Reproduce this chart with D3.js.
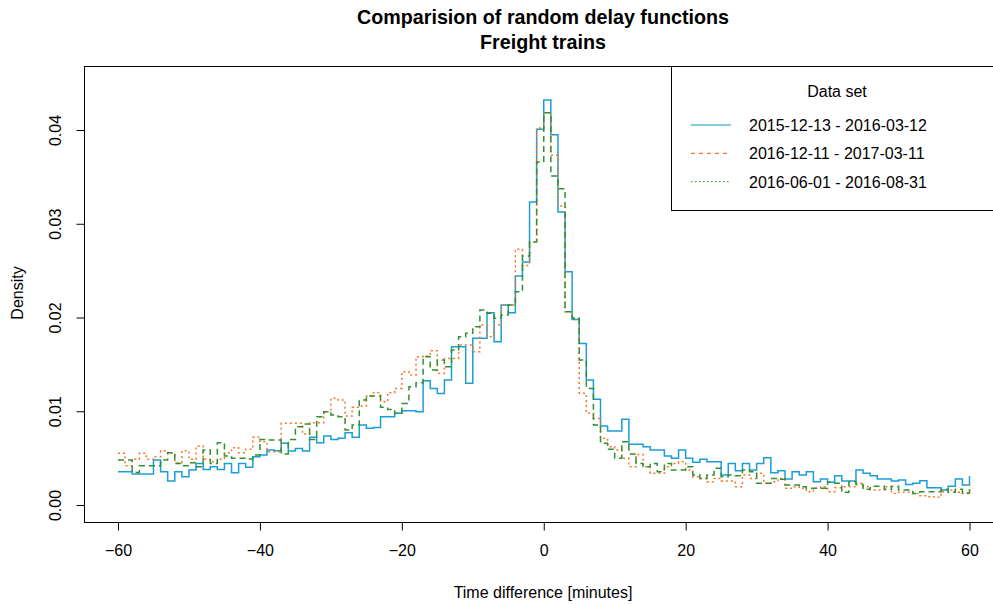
<!DOCTYPE html>
<html>
<head>
<meta charset="utf-8">
<script src="https://cdn.jsdelivr.net/npm/d3@7"></script>
<style>
  body { margin: 0; background: #fff; }
  svg { display: block; }
  text { font-family: "Liberation Sans", Arial, Helvetica, sans-serif; fill: #000; }
</style>
</head>
<body>
<svg id="chart" width="993" height="604"></svg>
<script>
// Bin left edges in minutes; the last entry closes the final step at +60
const minutes = d3.range(-60, 61);

// Density per 1-minute bin, 2015-12-13 - 2016-03-12
const winter1516 = [
  0.00356, 0.00356, 0.00331, 0.00331, 0.00331, 0.00480, 0.00356, 0.00256, 0.00356, 0.00302,
  0.00373, 0.00444, 0.00380, 0.00409, 0.00380, 0.00444, 0.00345, 0.00444, 0.00402, 0.00516,
  0.00533, 0.00587, 0.00580, 0.00658, 0.00576, 0.00604, 0.00576, 0.00722, 0.00665, 0.00736,
  0.00700, 0.00711, 0.00772, 0.00722, 0.00853, 0.00818, 0.00828, 0.00942, 0.00942, 0.00978,
  0.01006, 0.01006, 0.00996, 0.01326, 0.01244, 0.01190, 0.01333, 0.01689, 0.01689, 0.01298,
  0.01778, 0.01778, 0.02052, 0.01742, 0.02133, 0.02052, 0.02443, 0.02592, 0.03232, 0.04007,
  0.04320, 0.03950, 0.03125, 0.02489, 0.01980, 0.01724, 0.01333, 0.01127, 0.00843, 0.00789,
  0.00789, 0.00914, 0.00647, 0.00647, 0.00622, 0.00587, 0.00587, 0.00523, 0.00498, 0.00587,
  0.00498, 0.00455, 0.00487, 0.00462, 0.00462, 0.00320, 0.00444, 0.00366, 0.00444, 0.00373,
  0.00444, 0.00505, 0.00345, 0.00366, 0.00277, 0.00356, 0.00320, 0.00356, 0.00249, 0.00277,
  0.00242, 0.00313, 0.00256, 0.00256, 0.00373, 0.00338, 0.00313, 0.00277, 0.00277, 0.00256,
  0.00267, 0.00220, 0.00231, 0.00260, 0.00185, 0.00185, 0.00160, 0.00200, 0.00277, 0.00213,
  0.00309
];

// Density per 1-minute bin, 2016-12-11 - 2017-03-11
const winter1617 = [
  0.00551, 0.00419, 0.00487, 0.00551, 0.00487, 0.00515, 0.00579, 0.00551, 0.00451, 0.00579,
  0.00487, 0.00629, 0.00487, 0.00462, 0.00487, 0.00558, 0.00612, 0.00558, 0.00594, 0.00722,
  0.00676, 0.00569, 0.00569, 0.00871, 0.00871, 0.00871, 0.00757, 0.00878, 0.00878, 0.00996,
  0.01138, 0.01120, 0.00949, 0.01042, 0.01056, 0.01163, 0.01198, 0.01102, 0.01198, 0.01244,
  0.01422, 0.01387, 0.01582, 0.01589, 0.01646, 0.01404, 0.01564, 0.01564, 0.01707, 0.01707,
  0.01636, 0.01920, 0.01795, 0.01920, 0.02133, 0.02133, 0.02727, 0.02556, 0.02805, 0.04021,
  0.04185, 0.03730, 0.03189, 0.02062, 0.01991, 0.01191, 0.00978, 0.00924, 0.00711, 0.00622,
  0.00587, 0.00498, 0.00409, 0.00540, 0.00409, 0.00338, 0.00338, 0.00409, 0.00444, 0.00462,
  0.00373, 0.00302, 0.00284, 0.00249, 0.00284, 0.00256, 0.00256, 0.00195, 0.00320, 0.00284,
  0.00338, 0.00231, 0.00249, 0.00284, 0.00178, 0.00195, 0.00178, 0.00142, 0.00178, 0.00195,
  0.00142, 0.00185, 0.00195, 0.00195, 0.00231, 0.00195, 0.00160, 0.00160, 0.00195, 0.00124,
  0.00135, 0.00135, 0.00124, 0.00099, 0.00089, 0.00082, 0.00142, 0.00160, 0.00135, 0.00124,
  0.00220
];

// Density per 1-minute bin, 2016-06-01 - 2016-08-31
const summer16 = [
  0.00480, 0.00480, 0.00348, 0.00419, 0.00419, 0.00419, 0.00480, 0.00558, 0.00444, 0.00419,
  0.00451, 0.00409, 0.00587, 0.00444, 0.00665, 0.00523, 0.00498, 0.00498, 0.00491, 0.00533,
  0.00700, 0.00693, 0.00693, 0.00544, 0.00700, 0.00836, 0.00864, 0.00700, 0.00942, 0.00996,
  0.00960, 0.00942, 0.00800, 0.00853, 0.01120, 0.01163, 0.01163, 0.01042, 0.01020, 0.00978,
  0.01084, 0.01262, 0.01305, 0.01582, 0.01440, 0.01547, 0.01476, 0.01653, 0.01795, 0.01831,
  0.01902, 0.02080, 0.02045, 0.01991, 0.02027, 0.02133, 0.02276, 0.02656, 0.02805, 0.03659,
  0.04185, 0.03509, 0.03374, 0.02062, 0.01991, 0.01547, 0.01244, 0.00853, 0.00658, 0.00594,
  0.00498, 0.00676, 0.00544, 0.00444, 0.00409, 0.00444, 0.00356, 0.00444, 0.00373, 0.00373,
  0.00409, 0.00320, 0.00284, 0.00320, 0.00391, 0.00302, 0.00320, 0.00313, 0.00373, 0.00356,
  0.00231, 0.00231, 0.00284, 0.00274, 0.00213, 0.00213, 0.00195, 0.00178, 0.00178, 0.00178,
  0.00242, 0.00231, 0.00135, 0.00249, 0.00220, 0.00167, 0.00200, 0.00200, 0.00167, 0.00200,
  0.00160, 0.00160, 0.00124, 0.00142, 0.00142, 0.00142, 0.00167, 0.00135, 0.00167, 0.00128,
  0.00200
];

const seriesLabels = ["2015-12-13 - 2016-03-12", "2016-12-11 - 2017-03-11", "2016-06-01 - 2016-08-31"];
const seriesColors = ["#1b9dd6", "#fa7424", "#2f912f"];
const xTicks = [-60, -40, -20, 0, 20, 40, 60];
const yTicks = [0, 0.01, 0.02, 0.03, 0.04];

const svg = d3.select("#chart");
svg.append("rect").attr("width", 993).attr("height", 604).attr("fill", "#fff");

const x = d3.scaleLinear().domain([-60, 60]).range([118, 969.5]);
const y = d3.scaleLinear().domain([0, 0.04]).range([505, 130]);

// plotting region, padded 4% beyond the data limits on each side
const xLo = -64.8, xHi = 64.8, yLo = -0.0018, yHi = 0.0468;

// step curves
const step = d3.line().x((d, i) => x(minutes[i])).y(d => y(d)).curve(d3.curveStepAfter);
const styles = [
  { data: winter1516, dash: null },
  { data: winter1617, dash: "2,3" },
  { data: summer16, dash: "6,4" }
];
const plotG = svg.append("g");
styles.forEach((s, i) => {
  plotG.append("path")
    .attr("d", step(s.data))
    .attr("fill", "none")
    .attr("stroke", seriesColors[i])
    .attr("stroke-width", 1.5)
    .attr("stroke-dasharray", s.dash);
});

// frame
svg.append("rect")
  .attr("x", Math.round(x(xLo)) + 0.5)
  .attr("y", Math.round(y(yHi)) + 0.5)
  .attr("width", Math.round(x(xHi)) - Math.round(x(xLo)))
  .attr("height", Math.round(y(yLo)) - Math.round(y(yHi)))
  .attr("fill", "none")
  .attr("stroke", "#000")
  .attr("stroke-width", 1);

// x axis
const xAxis = svg.append("g")
  .attr("transform", `translate(0,${Math.round(y(yLo)) + 0.5})`)
  .call(d3.axisBottom(x).tickValues(xTicks).tickSize(8).tickPadding(6).tickFormat(d3.format("d")));
xAxis.select(".domain").remove();
xAxis.selectAll("line").attr("stroke", "#000");
xAxis.selectAll("text")
  .attr("font-size", 16).attr("font-family", "Liberation Sans, Arial, sans-serif")
  .attr("fill", "#000").attr("y", 33).attr("dy", 0);

// y axis with labels turned parallel to the axis
const yAxis = svg.append("g")
  .attr("transform", `translate(${Math.round(x(xLo)) + 0.5},0)`)
  .call(d3.axisLeft(y).tickValues(yTicks).tickSize(8).tickFormat(d3.format(".2f")));
yAxis.select(".domain").remove();
yAxis.selectAll("line").attr("stroke", "#000");
yAxis.selectAll("text")
  .attr("font-size", 16).attr("font-family", "Liberation Sans, Arial, sans-serif")
  .attr("fill", "#000")
  .attr("transform", "rotate(-90)")
  .attr("text-anchor", "middle")
  .attr("x", 0).attr("y", -24).attr("dy", 0);

// titles
svg.append("text").attr("x", 543).attr("y", 24).attr("text-anchor", "middle")
  .attr("font-size", 19.7).attr("font-weight", "bold").text("Comparision of random delay functions");
svg.append("text").attr("x", 543).attr("y", 49).attr("text-anchor", "middle")
  .attr("font-size", 19.7).attr("font-weight", "bold").text("Freight trains");
svg.append("text").attr("x", 543).attr("y", 598).attr("text-anchor", "middle")
  .attr("font-size", 16).text("Time difference [minutes]");
svg.append("text").attr("transform", "translate(23,293) rotate(-90)").attr("text-anchor", "middle")
  .attr("font-size", 16).text("Density");

// legend
const legendDash = [null, "4,4", "1.6,2.4"];
const legendColors = ["#5db8de", "#fa7d33", "#4caa4c"];
const lg = svg.append("g");
lg.append("rect")
  .attr("x", 671.5).attr("y", Math.round(y(yHi)) + 0.5)
  .attr("width", Math.round(x(xHi)) - 671).attr("height", 210 - Math.round(y(yHi)))
  .attr("fill", "#fff").attr("stroke", "#000");
lg.append("text").attr("x", 837).attr("y", 96.5).attr("text-anchor", "middle")
  .attr("font-size", 16).text("Data set");
const rowY = [125, 153.3, 181.7];
seriesLabels.forEach((lab, i) => {
  lg.append("line").attr("x1", 691).attr("x2", 731).attr("y1", rowY[i]).attr("y2", rowY[i])
    .attr("stroke", legendColors[i]).attr("stroke-width", 1.3).attr("stroke-dasharray", legendDash[i]);
  lg.append("text").attr("x", 749).attr("y", rowY[i] + 5.8).attr("font-size", 16).text(lab);
});
</script>
</body>
</html>
